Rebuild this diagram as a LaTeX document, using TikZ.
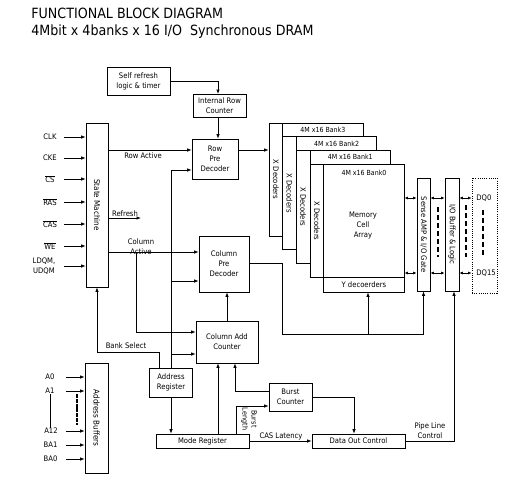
\documentclass[tikz,border=0pt]{standalone}
\usepackage{fontspec}
\setmainfont{DejaVu Sans Condensed}
\usetikzlibrary{arrows.meta}
\newcommand{\ovl}[1]{$\overline{\mbox{#1}}$}
\begin{document}
\begin{tikzpicture}[x=1pt,y=-1pt,
  font=\fontsize{7.6}{10}\selectfont,
  line width=0.75pt,
  box/.style={draw, fill=white, inner sep=0pt, align=center},
  arr/.style={-{Latex[length=4.5pt,width=3.5pt]}},
  darr/.style={{Latex[length=3.5pt,width=3pt]}-{Latex[length=3.5pt,width=3pt]}},
  lbl/.style={inner sep=0pt, align=center},
  vtext/.style={inner sep=0pt, rotate=-90, align=center},
  bankhdr/.style={inner sep=0pt, font=\fontsize{7}{9}\selectfont},
  thickdash/.style={line width=2.2pt, dash pattern=on 5pt off 3pt},
  addrdash/.style={line width=1.8pt, dash pattern=on 4pt off 0.8pt}]
\useasboundingbox (0,0) rectangle (511,493);

% title
\node[anchor=base west, inner sep=0pt, font=\fontsize{14.1}{16}\selectfont] (t1) at (31,18) {FUNCTIONAL BLOCK DIAGRAM};
\node[anchor=base west, inner sep=0pt, font=\fontsize{14.1}{16}\selectfont] (t2) at (31,35) {4Mbit x 4banks x 16 I/O\ \ Synchronous DRAM};

% boxes
\node[box,minimum width=63pt,minimum height=28pt] (sr) at (138.5,81) {Self refresh\\logic \& timer};
\node[box,minimum width=53pt,minimum height=23pt] (irc) at (219.5,105.5) {Internal Row\\Counter};
\node[box,minimum width=46pt,minimum height=40pt] (rpd) at (215,159) {Row\\Pre\\Decoder};
\node[box,minimum width=22pt,minimum height=164pt] (sm) at (97,205) {};
\node[vtext, font=\fontsize{8}{10}\selectfont] (smt) at (sm.center) {State Machine};
\node[box,minimum width=50pt,minimum height=56pt] (cpd) at (224,264) {Column\\Pre\\Decoder};
\node[box,minimum width=62pt,minimum height=42pt] (cac) at (227,342) {Column Add\\Counter};
\node[box,minimum width=43pt,minimum height=29pt] (ar) at (171,382.5) {Address\\Register};
\node[box,minimum width=93pt,minimum height=14pt] (mr) at (202.5,441) {Mode Register};
\node[box,minimum width=43pt,minimum height=28pt] (bc) at (290.5,397) {Burst\\Counter};
\node[box,minimum width=93pt,minimum height=14pt] (doc) at (358.5,441) {Data Out Control};
\node[box,minimum width=23pt,minimum height=110pt] (ab) at (96.5,418) {};
\node[vtext, font=\fontsize{8}{10}\selectfont] (abt) at (ab.center) {Address Buffers};
\node[box,minimum width=13pt,minimum height=113pt] (sa) at (423.5,234.5) {};
\node[vtext] (sat) at (sa.center) {Sense AMP \& I/O Gate};
\node[box,minimum width=14pt,minimum height=113pt] (iob) at (452,234.5) {};
\node[vtext] (iobt) at (iob.center) {I/O Buffer \& Logic};
\node[draw, dash pattern=on 1pt off 1.2pt, line width=0.9pt, inner sep=0pt, minimum width=25pt, minimum height=115pt] (dq) at (484.5,235.5) {};

% banks
\node[box,minimum width=94pt,minimum height=113pt] (b3) at (316,179.5) {};
\draw (282.7,123) -- (282.7,236);
\draw (282.7,136.7) -- (363,136.7);
\node[bankhdr] (h3) at (322.85,129.85) {4M x16 Bank3};
\node[vtext] (x3) at (275.85,179.5) {X Decoders};

\node[box,minimum width=94pt,minimum height=113pt] (b2) at (329.7,193.2) {};
\draw (296.4,136.7) -- (296.4,249.7);
\draw (296.4,150.4) -- (376.7,150.4);
\node[bankhdr] (h2) at (336.55,143.55) {4M x16 Bank2};
\node[vtext] (x2) at (289.55,193.2) {X Decoders};

\node[box,minimum width=94pt,minimum height=113pt] (b1) at (343.4,206.9) {};
\draw (310.1,150.4) -- (310.1,263.4);
\draw (310.1,164.1) -- (390.4,164.1);
\node[bankhdr] (h1) at (350.25,157.25) {4M x16 Bank1};
\node[vtext] (x1) at (303.25,206.9) {X Decoders};

\node[box,minimum width=13.7pt,minimum height=113.7pt] (x0) at (316.95,220.95) {};
\node[vtext] (x0t) at (x0.center) {X Decoders};
\node[box,minimum width=80.3pt,minimum height=113.7pt] (arr0) at (363.95,220.95) {};
\node[bankhdr] (h0) at (364,173) {4M x16 Bank0};
\node[lbl] (mca) at (363,226) {Memory\\Cell\\Array};
\node[box,minimum width=80.3pt,minimum height=14.2pt] (yd) at (363.95,284.9) {Y decoerders};

% input labels
\node[lbl] (clk) at (50,137) {CLK};
\node[lbl] (cke) at (50,158) {CKE};
\node[lbl] (cs) at (50,179) {\ovl{CS}};
\node[lbl] (ras) at (50,202) {\ovl{RAS}};
\node[lbl] (cas) at (50,224) {\ovl{CAS}};
\node[lbl] (we) at (50,246) {\ovl{WE}};
\node[lbl] (dqm) at (44,266) {LDQM,\\UDQM};
\foreach \n in {clk,cke,cs,ras,cas,we}
  \draw[arr] (\n.east -| 64,0) -- (sm.west |- \n.east);
\draw[arr] (dqm.east -| 64,0) -- (sm.west |- dqm.east);

\node[lbl] (a0) at (50,377) {A0};
\node[lbl] (a1) at (50,391) {A1};
\node[lbl] (a12) at (51,431) {A12};
\node[lbl] (ba1) at (50.5,445) {BA1};
\node[lbl] (ba0) at (50.5,459) {BA0};
\foreach \n in {a0,a1,a12,ba1,ba0}
  \draw[arr] (\n.east -| 66,0) -- (ab.west |- \n.east);
\draw (a1.south) -- (a1.south |- a12.north);
\coordinate (ad1) at (77,394);
\coordinate (ad2) at (77,425);
\draw[addrdash] (ad1) -- (ad2);

% connectors top
\draw[arr] (sr.east) -| (218,94);
\draw[arr] (irc.south -| 218,0) -- (rpd.north -| 218,0);
\draw[arr] (sm.east |- 0,150) -- (rpd.west |- 0,150);
\node[lbl] (rowact) at (143,156) {Row Active};
\draw[arr] (rpd.east |- 0,150) -- (b3.west |- 0,150);

\draw[arr] (ar.north) |- (rpd.west |- 0,170);
\coordinate (j1) at (171,281);
\coordinate (j2) at (171,354);
\draw[arr] (j1) -- (cpd.west |- j1);
\draw[arr] (j2) -- (cac.west |- j2);
\draw[arr] (ar.south) -- (ar.south |- mr.north);

\coordinate (rf) at (141,218);
\draw[arr] (sm.east |- rf) -- (rf);
\node[lbl] (refr) at (125,213.5) {Refresh};

\draw[arr] (sm.east |- 0,252) -- (cpd.west |- 0,252);
\node[lbl] (colact) at (141,247) {Column\\Active};
\coordinate (j3) at (136,252);
\draw[arr] (j3) |- (cac.west |- 0,332);

\coordinate (bs) at (159,368);
\draw[arr] (bs) |- (sm.south |- 0,352) -- (sm.south);
\node[lbl] (banksel) at (126,346) {Bank Select};

\draw[arr] (cac.north) -- (cac.north |- cpd.south);

\coordinate (c1) at (282,334);
\draw[arr] (cpd.east |- 0,263) -| (c1) -| (sa.south);
\coordinate (c2) at (368,334);
\draw[arr] (c2) -- (c2 |- yd.south);

\draw[arr] (mr.north -| 218,0) -- (cac.south -| 218,0);
\draw[arr] (bc.west |- 0,391) -| (cac.south -| 235,0);
\draw[arr] (mr.north -| 236,0) |- (bc.west |- 0,406);
\node[vtext, font=\fontsize{7.2}{9}\selectfont] (blen) at (249,419) {Burst\\Length};
\draw[arr] (bc.east) -| (doc.north -| 354,0);
\draw[arr] (mr.east) -- (doc.west);
\node[lbl] (casl) at (281,436) {CAS Latency};
\draw[arr] (doc.east) -| (iob.south -| 454,0);
\node[lbl] (plc) at (430,431) {Pipe Line\\Control};

% data path
\foreach \yy in {198,273} {
  \draw[darr] (arr0.east |- 0,\yy) -- (sa.west |- 0,\yy);
  \draw[darr] (sa.east |- 0,\yy) -- (iob.west |- 0,\yy);
  \draw[darr] (iob.east |- 0,\yy) -- (dq.west |- 0,\yy);
}
\node[lbl, anchor=west] (dq0) at (476,198) {DQ0};
\node[lbl, anchor=west] (dq15) at (476,273) {DQ15};
\coordinate (d1a) at (438,207); \coordinate (d1b) at (438,257);
\coordinate (d2a) at (466,205); \coordinate (d2b) at (466,257);
\coordinate (d3a) at (483,210); \coordinate (d3b) at (483,256);
\draw[thickdash] (d1a) -- (d1b);
\draw[thickdash] (d2a) -- (d2b);
\draw[thickdash] (d3a) -- (d3b);
\end{tikzpicture}
\end{document}
